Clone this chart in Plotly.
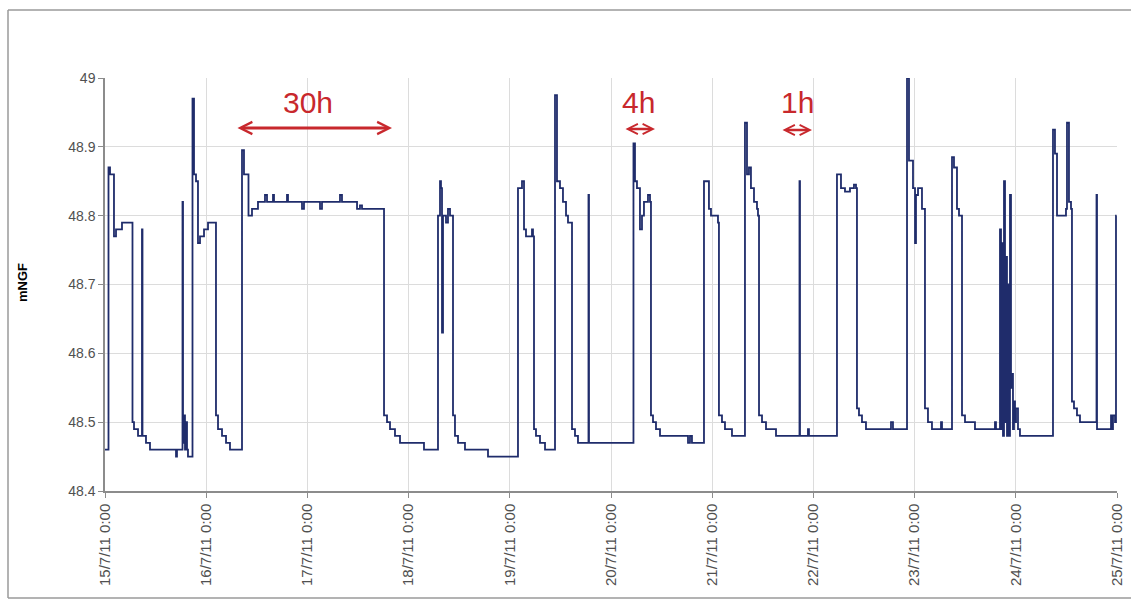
import pandas as pd
import plotly.graph_objects as go

hours = [
    0.00, 0.71, 0.83, 1.19, 1.66, 2.13, 2.61, 3.56, 4.03, 6.40,
    6.52, 6.88, 7.83, 8.66, 8.77, 8.89, 9.72, 10.67, 16.60, 16.84,
    17.07, 18.26, 18.38, 18.50, 18.73, 18.97, 19.21, 19.45, 19.68, 20.16,
    20.63, 20.75, 21.11, 21.58, 22.05, 22.53, 23.48, 24.43, 26.09, 26.32,
    26.80, 27.75, 28.70, 29.64, 32.25, 32.49, 32.96, 33.68, 34.03, 34.86,
    35.81, 36.28, 37.23, 37.94, 38.42, 39.60, 39.84, 40.08, 40.32, 42.92,
    43.16, 43.40, 46.24, 46.72, 47.19, 50.51, 50.99, 51.46, 55.26, 55.73,
    56.20, 59.53, 59.77, 60.47, 60.95, 65.93, 66.17, 66.88, 67.59, 68.77,
    69.96, 75.41, 75.65, 78.73, 78.97, 79.45, 79.68, 79.92, 80.16, 80.87,
    81.34, 81.82, 82.29, 82.53, 83.00, 83.72, 85.37, 90.59, 90.83, 97.71,
    97.94, 98.89, 99.37, 99.84, 101.03, 101.26, 101.50, 101.74, 102.21, 103.16,
    104.35, 106.48, 106.72, 107.19, 107.90, 108.61, 109.33, 109.80, 110.51, 110.75,
    111.46, 112.17, 114.54, 114.66, 114.78, 125.22, 125.33, 125.69, 126.16, 126.87,
    127.35, 127.82, 128.77, 129.25, 129.48, 129.96, 130.67, 131.62, 137.78, 138.26,
    138.73, 139.20, 141.81, 142.05, 142.76, 143.23, 143.71, 145.37, 145.60, 146.32,
    147.03, 148.69, 151.53, 151.77, 152.25, 152.72, 153.19, 153.91, 154.62, 154.86,
    155.10, 155.81, 156.76, 158.89, 159.13, 164.58, 164.70, 164.82, 166.48, 166.71,
    166.95, 173.35, 173.59, 174.07, 174.54, 175.49, 176.67, 177.62, 178.10, 178.33,
    178.81, 179.52, 180.47, 186.16, 186.40, 186.87, 189.96, 190.20, 190.67, 191.38,
    191.62, 192.10, 192.33, 192.81, 193.28, 193.75, 194.23, 194.46, 195.17, 196.12,
    198.02, 198.26, 198.50, 200.63, 200.87, 201.34, 202.05, 202.53, 203.00, 203.24,
    203.95, 205.13, 206.32, 210.83, 211.06, 211.30, 212.01, 212.25, 212.49, 212.72,
    212.96, 213.20, 213.44, 213.67, 213.91, 214.15, 214.38, 214.62, 214.86, 215.10,
    215.33, 215.57, 215.81, 216.05, 216.52, 216.99, 224.58, 224.82, 225.29, 225.77,
    227.66, 227.90, 228.14, 228.61, 229.09, 229.32, 229.80, 230.51, 231.22, 235.02,
    235.14, 235.26, 238.34, 238.58, 238.81, 239.05, 239.53, 239.76, 239.90,
]

level = [
    48.46, 48.46, 48.87, 48.86, 48.86, 48.77, 48.78, 48.78, 48.79, 48.79,
    48.50, 48.49, 48.48, 48.48, 48.78, 48.48, 48.47, 48.46, 48.46, 48.45,
    48.46, 48.46, 48.82, 48.47, 48.51, 48.46, 48.50, 48.46, 48.45, 48.45,
    48.45, 48.97, 48.86, 48.85, 48.76, 48.77, 48.78, 48.79, 48.79, 48.51,
    48.49, 48.48, 48.47, 48.46, 48.46, 48.895, 48.86, 48.86, 48.80, 48.81,
    48.81, 48.82, 48.82, 48.83, 48.82, 48.82, 48.83, 48.82, 48.82, 48.82,
    48.83, 48.82, 48.82, 48.81, 48.82, 48.82, 48.81, 48.82, 48.82, 48.83,
    48.82, 48.82, 48.81, 48.815, 48.81, 48.81, 48.51, 48.50, 48.49, 48.48,
    48.47, 48.47, 48.46, 48.46, 48.80, 48.85, 48.84, 48.63, 48.80, 48.79,
    48.81, 48.80, 48.80, 48.51, 48.48, 48.47, 48.46, 48.46, 48.45, 48.45,
    48.84, 48.85, 48.78, 48.77, 48.77, 48.78, 48.77, 48.49, 48.48, 48.47,
    48.46, 48.46, 48.975, 48.85, 48.84, 48.82, 48.80, 48.79, 48.79, 48.49,
    48.48, 48.47, 48.47, 48.83, 48.47, 48.47, 48.905, 48.85, 48.84, 48.78,
    48.80, 48.82, 48.83, 48.82, 48.51, 48.50, 48.49, 48.48, 48.48, 48.47,
    48.48, 48.47, 48.47, 48.85, 48.85, 48.81, 48.80, 48.79, 48.51, 48.50,
    48.49, 48.48, 48.48, 48.935, 48.86, 48.87, 48.84, 48.82, 48.81, 48.80,
    48.51, 48.50, 48.49, 48.49, 48.48, 48.48, 48.85, 48.48, 48.48, 48.49,
    48.48, 48.48, 48.86, 48.86, 48.84, 48.835, 48.84, 48.845, 48.84, 48.52,
    48.51, 48.50, 48.49, 48.49, 48.50, 48.49, 48.49, 49.00, 48.88, 48.88,
    48.84, 48.76, 48.83, 48.84, 48.84, 48.81, 48.81, 48.52, 48.50, 48.49,
    48.49, 48.50, 48.49, 48.49, 48.885, 48.87, 48.81, 48.80, 48.80, 48.51,
    48.50, 48.50, 48.49, 48.49, 48.50, 48.49, 48.49, 48.78, 48.49, 48.76,
    48.48, 48.85, 48.50, 48.74, 48.48, 48.70, 48.48, 48.83, 48.55, 48.57,
    48.49, 48.53, 48.50, 48.52, 48.49, 48.48, 48.48, 48.925, 48.89, 48.80,
    48.80, 48.81, 48.935, 48.82, 48.81, 48.53, 48.52, 48.51, 48.50, 48.50,
    48.83, 48.49, 48.49, 48.51, 48.49, 48.51, 48.50, 48.80, 48.80,
]

day_ticks = pd.date_range("2011-07-15", "2011-07-25", freq="D")
day_labels = [f"{d.day}/7/11 0:00" for d in day_ticks]

span_labels = ["30h", "4h", "1h"]

start = pd.Timestamp("2011-07-15")
times = [start + pd.Timedelta(hours=h) for h in hours]

W, H = 1131, 603
L, R, T, B = 105, 14, 78, 112
PW, PH = W - L - R, H - T - B


def px(xp):
    return (xp - L) / PW


def py(yp):
    return (H - B - yp) / PH


fig = go.Figure()
fig.add_trace(go.Scatter(
    x=times, y=level, mode="lines",
    line=dict(color="#1f2c6b", width=1.8, shape="hv"),
    showlegend=False, hoverinfo="skip",
))

red = "#c8282d"
annots = []
for lab, xc in zip(span_labels, [308, 638, 797]):
    annots.append(dict(
        x=px(xc), y=py(103), xref="paper", yref="paper",
        text=lab, showarrow=False, xanchor="center", yanchor="middle",
        font=dict(family="Liberation Sans, Arial", size=30, color=red),
    ))
for x0, x1, yy, w in [(236, 392, 128, 3), (624, 655, 129, 2.5), (781, 812, 130, 2.5)]:
    annots.append(dict(
        x=px(x1), y=py(yy), xref="paper", yref="paper",
        ax=-(x1 - x0), ay=0, axref="pixel", ayref="pixel",
        text="", showarrow=True, arrowside="end+start",
        arrowhead=5, arrowsize=0.8, arrowwidth=w, arrowcolor=red,
    ))
annots.append(dict(
    x=px(22), y=py(283), xref="paper", yref="paper",
    text="<b>mNGF</b>", textangle=-90, showarrow=False,
    xanchor="center", yanchor="middle",
    font=dict(family="Liberation Sans, Arial", size=13, color="#000000"),
))

frame = dict(color="#9a9a9a", width=1.5)
fig.update_layout(
    width=W, height=H, autosize=False,
    margin=dict(l=L, r=R, t=T, b=B, autoexpand=False),
    paper_bgcolor="white", plot_bgcolor="white",
    annotations=annots,
    shapes=[
        dict(type="line", xref="paper", yref="paper",
             x0=px(8), x1=px(1131), y0=py(10), y1=py(10), line=frame, layer="below"),
        dict(type="line", xref="paper", yref="paper",
             x0=px(8), x1=px(8), y0=py(10), y1=py(598), line=frame, layer="below"),
        dict(type="line", xref="paper", yref="paper",
             x0=px(8), x1=px(1131), y0=py(598), y1=py(598), line=frame, layer="below"),
    ],
)

fig.update_xaxes(
    type="date", automargin=False,
    range=[day_ticks[0], day_ticks[-1]],
    tickmode="array", tickvals=list(day_ticks), ticktext=day_labels,
    tickangle=-90, ticklabeloverflow="allow",
    tickfont=dict(family="Liberation Sans, Arial", size=15, color="#505050"),
    showgrid=True, gridcolor="#dcdcdc", gridwidth=1,
    showline=True, linecolor="#8c8c8c", linewidth=1.5,
    ticks="outside", ticklen=5, tickcolor="#8c8c8c",
    zeroline=False,
)
fig.update_yaxes(
    automargin=False,
    range=[48.4, 49.0],
    tick0=48.4, dtick=0.1,
    tickfont=dict(family="Liberation Sans, Arial", size=14, color="#505050"),
    showgrid=True, gridcolor="#dcdcdc", gridwidth=1,
    showline=True, linecolor="#8c8c8c", linewidth=1.5,
    ticks="outside", ticklen=5, tickcolor="#8c8c8c",
    zeroline=False,
)

fig.write_html(
    "out.html",
    config={"displayModeBar": False},
    post_script="document.body.style.margin='0';document.body.style.overflow='hidden';",
)
